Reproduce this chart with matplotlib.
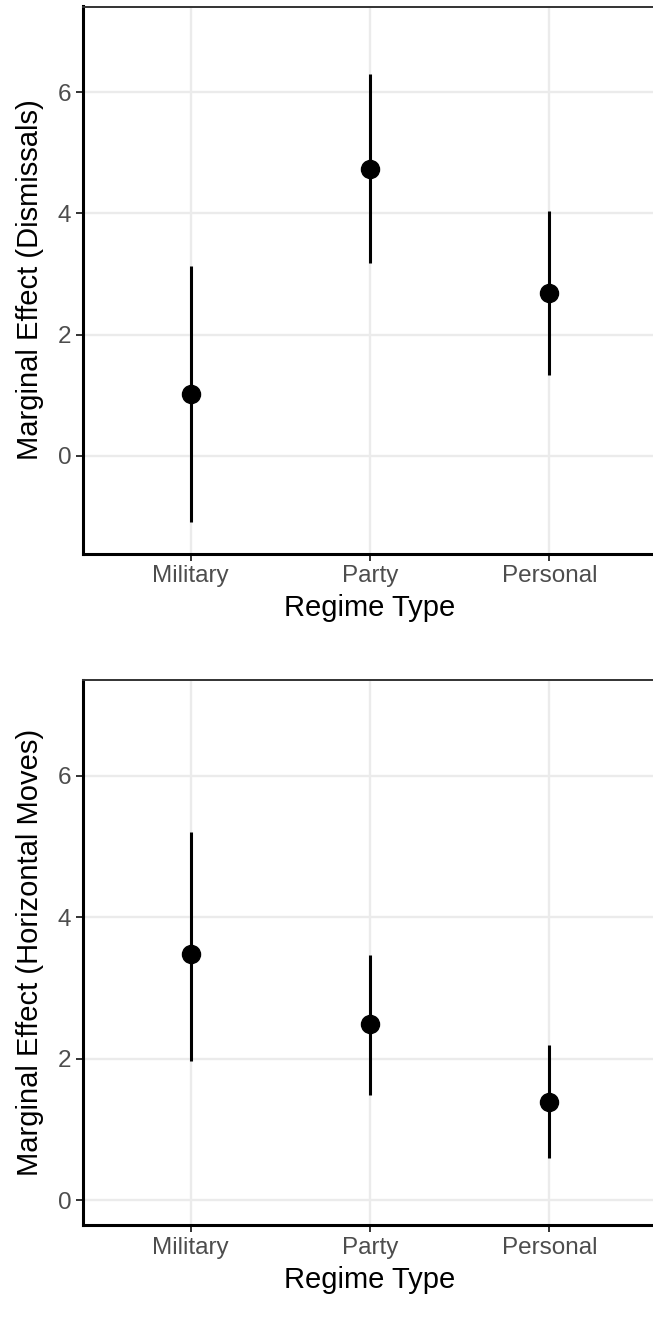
import matplotlib

matplotlib.use("Agg")
import matplotlib.pyplot as plt
import numpy as np

plt.rcParams["font.family"] = ["Liberation Sans", "DejaVu Sans"]

regimes = ["Military", "Party", "Personal"]

# marginal effects and 95% intervals
dismissals_est = [1.02, 4.73, 2.68]
dismissals_lo = [-1.09, 3.18, 1.34]
dismissals_hi = [3.13, 6.29, 4.03]

horizontal_est = [3.48, 2.49, 1.39]
horizontal_lo = [1.97, 1.49, 0.59]
horizontal_hi = [5.20, 3.47, 2.19]

y_ticks = [0, 2, 4, 6]

W, H, DPI = 653, 1332, 100

fig = plt.figure(figsize=(W / DPI, H / DPI), dpi=DPI)


def px_axes(left, top, right, bottom):
    return fig.add_axes([left / W, 1 - bottom / H, (right - left) / W, (bottom - top) / H])


def draw_panel(ax, est, lo, hi, ylabel, ylim):
    x = np.arange(1, len(regimes) + 1)
    est = np.asarray(est)
    yerr = np.vstack([est - np.asarray(lo), np.asarray(hi) - est])
    ax.errorbar(
        x, est, yerr=yerr, fmt="o", color="black", ecolor="black",
        elinewidth=2.2, markersize=13, capsize=0, zorder=3,
    )
    ax.set_xlim(0.4, 3.6)
    ax.set_ylim(*ylim)
    ax.set_xticks(x)
    ax.set_xticklabels(regimes)
    ax.set_yticks(y_ticks)
    ax.grid(True, color="#EBEBEB", linewidth=1.7)
    ax.set_axisbelow(True)
    ax.tick_params(
        axis="both", colors="#333333", labelcolor="#4D4D4D",
        labelsize=17.5, length=5, width=1.4, pad=3.5,
    )
    for side in ("left", "bottom"):
        ax.spines[side].set_color("black")
        ax.spines[side].set_linewidth(2.2)
    ax.spines["top"].set_color("#333333")
    ax.spines["top"].set_linewidth(1.4)
    ax.spines["right"].set_visible(False)
    ax.set_xlabel("Regime Type", fontsize=21, labelpad=5)
    ax.set_ylabel(ylabel, fontsize=21, labelpad=10)


ax_top = px_axes(83, 6.5, 657, 553.5)
draw_panel(
    ax_top, dismissals_est, dismissals_lo, dismissals_hi,
    "Marginal Effect (Dismissals)", (-1.61, 7.41),
)

ax_bottom = px_axes(83, 680, 657, 1225)
draw_panel(
    ax_bottom, horizontal_est, horizontal_lo, horizontal_hi,
    "Marginal Effect (Horizontal Moves)", (-0.35, 7.35),
)

fig.savefig("out.png", dpi=DPI)
plt.close(fig)
